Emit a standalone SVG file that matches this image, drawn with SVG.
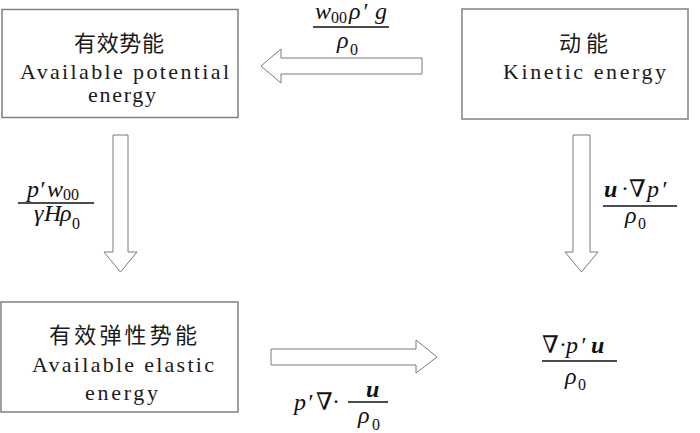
<svg xmlns="http://www.w3.org/2000/svg" width="700" height="433" viewBox="0 0 700 433">
<style>
.box{fill:#fff;stroke:#808080;stroke-width:1.5}
.arr{fill:#fff;stroke:#7a7a7a;stroke-width:1}
.zh{font-size:22px;fill:#1a1a1a}
.en{font-size:22px;fill:#1a1a1a}
.m{font-size:24px;font-style:italic;fill:#111}
.b{font-weight:bold}
.s{font-size:16px;font-style:normal;fill:#111}
.up{font-style:normal}
.fl{stroke:#111;stroke-width:1.6}
</style>
<rect width="700" height="433" fill="#fff"/>
<g id="node-ape" font-family="Liberation Serif, Noto Sans CJK SC, serif">
<rect class="box" x="2" y="9.5" width="236" height="108"/>
<text class="zh" x="74" y="51" textLength="90" lengthAdjust="spacing">有效势能</text>
<text class="en" x="20" y="79" textLength="209" lengthAdjust="spacing">Available potential</text>
<text class="en" x="88" y="102" textLength="68" lengthAdjust="spacing">energy</text>
</g>
<g id="node-ke" font-family="Liberation Serif, Noto Sans CJK SC, serif">
<rect class="box" x="462" y="9" width="226" height="110"/>
<text class="zh" x="559" y="51" textLength="49" lengthAdjust="spacing">动能</text>
<text class="en" x="503" y="79" textLength="163" lengthAdjust="spacing">Kinetic energy</text>
</g>
<g id="node-aee" font-family="Liberation Serif, Noto Sans CJK SC, serif">
<rect class="box" x="1" y="302" width="237" height="110"/>
<text class="zh" x="49" y="343" textLength="148" lengthAdjust="spacing">有效弹性势能</text>
<text class="en" x="32" y="372" textLength="182" lengthAdjust="spacing">Available elastic</text>
<text class="en" x="85" y="400" textLength="73" lengthAdjust="spacing">energy</text>
</g>
<g id="connectors">
<polygon class="arr" points="261,66 281,49 281,58 422,58 422,74 281,74 281,83"/>
<polygon class="arr" points="113,135 128,135 128,252 137,252 120.5,272 104,252 113,252"/>
<polygon class="arr" points="573,135 590,135 590,252 598,252 581.5,272 565,252 573,252"/>
<polygon class="arr" points="271,349 416,349 416,340 437,357 416,373 416,365 271,365"/>
</g>
<g id="label-top" font-family="Liberation Serif, DejaVu Serif, serif">
<text class="m" x="315" y="19">w</text>
<text class="s" x="331" y="23">00</text>
<text class="m" x="349" y="19">ρ</text>
<text class="m" x="362" y="19">′</text>
<text class="m" x="375" y="19">g</text>
<line class="fl" x1="313" y1="27" x2="389" y2="27"/>
<text class="m" x="337" y="48">ρ</text>
<text class="s" x="350" y="55">0</text>
</g>
<g id="label-left" font-family="Liberation Serif, DejaVu Serif, serif">
<text class="m" x="27" y="197">p</text>
<text class="m" x="39" y="197">′</text>
<text class="m" x="47" y="197">w</text>
<text class="s" x="63" y="200">00</text>
<line class="fl" x1="18" y1="203" x2="94" y2="203"/>
<text class="m" x="34" y="221">γ</text>
<text class="m" x="44" y="221">H</text>
<text class="m" x="60" y="221">ρ</text>
<text class="s" x="72" y="229">0</text>
</g>
<g id="label-right" font-family="Liberation Serif, DejaVu Serif, serif">
<text class="m b" x="604" y="197">u</text>
<text class="m up" x="621" y="196">·</text>
<text class="m up" x="629" y="197">∇</text>
<text class="m" x="647" y="197">p</text>
<text class="m" x="661" y="197">′</text>
<line class="fl" x1="603" y1="206" x2="677" y2="206"/>
<text class="m" x="625" y="223">ρ</text>
<text class="s" x="638" y="229">0</text>
</g>
<g id="label-bottom" font-family="Liberation Serif, DejaVu Serif, serif">
<text class="m" x="294" y="410">p</text>
<text class="m" x="307" y="410">′</text>
<text class="m up" x="316" y="410">∇</text>
<text class="m up" x="332" y="409">·</text>
<text class="m b" x="366" y="397">u</text>
<line class="fl" x1="348" y1="402" x2="388" y2="402"/>
<text class="m" x="358" y="423">ρ</text>
<text class="s" x="372" y="430">0</text>
</g>
<g id="label-sink" font-family="Liberation Serif, DejaVu Serif, serif">
<text class="m up" x="542" y="353">∇</text>
<text class="m up" x="559" y="352">·</text>
<text class="m" x="566" y="353">p</text>
<text class="m" x="580" y="353">′</text>
<text class="m b" x="591" y="353">u</text>
<line class="fl" x1="542" y1="361" x2="617" y2="361"/>
<text class="m" x="565" y="384">ρ</text>
<text class="s" x="578" y="390">0</text>
</g>
</svg>
